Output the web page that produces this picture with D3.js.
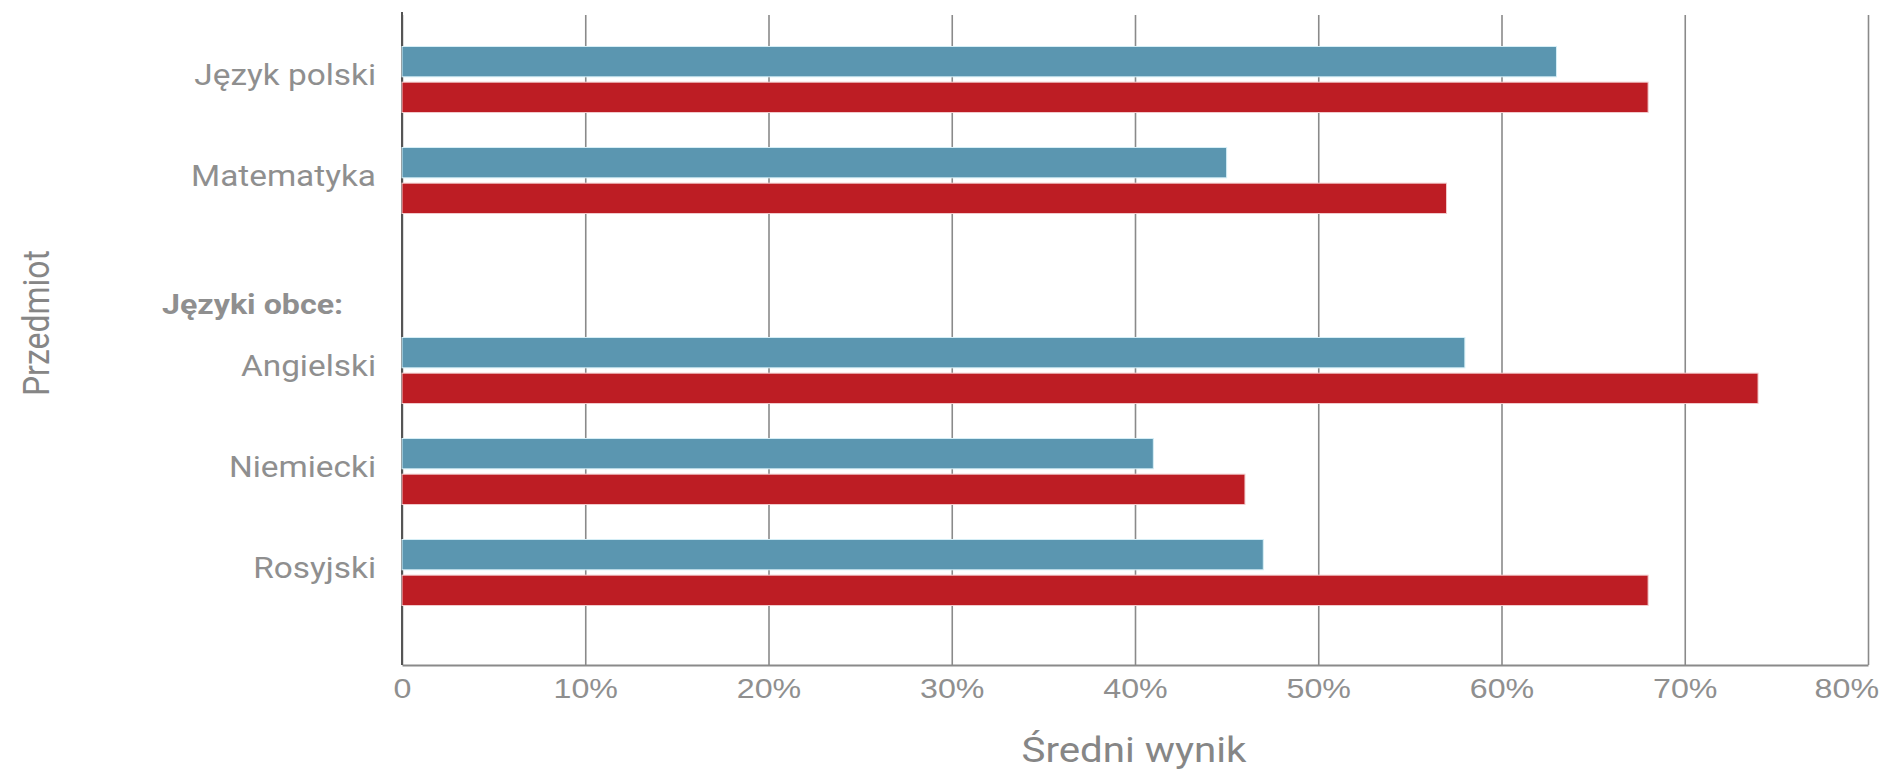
<!DOCTYPE html>
<html>
<head>
<meta charset="utf-8">
<script src="https://cdn.jsdelivr.net/npm/d3@7"></script>
<style>
  html, body { margin: 0; padding: 0; background: #fff; }
  svg { display: block; font-family: Roboto, "Noto Sans", sans-serif; }
</style>
</head>
<body>
<div id="chart"></div>
<script>
// --- data ---
const subjects = ["Język polski", "Matematyka", "Angielski", "Niemiecki", "Rosyjski"];
const subjectGroup = ["main", "main", "obce", "obce", "obce"];
const seriesNames = ["seria A", "seria B"];
const valuesA = [63, 45, 58, 41, 47];
const valuesB = [68, 57, 74, 46, 68];
const xTickValues = [0, 10, 20, 30, 40, 50, 60, 70, 80];
const xTickLabels = ["0", "10%", "20%", "30%", "40%", "50%", "60%", "70%", "80%"];
const groupHeader = "Języki obce:";
const yTitle = "Przedmiot";
const xTitle = "Średni wynik";

// --- layout ---
const W = 1882, H = 771;
const plot = { left: 402, right: 1868, top: 15, bottom: 665 };
const SX = 1.15;               // horizontal stretch of all text
const groupGap = 89;           // extra space before the foreign-language block
const colors = ["#5b96b0", "#bd1d24"];
const strokes = ["#d5eef6", "#f2c9cb"];
const textGray = "#8f8f8f";

const svg = d3.select("#chart")
  .append("svg")
  .attr("width", W)
  .attr("height", H);

const x = d3.scaleLinear()
  .domain([0, 80])
  .range([plot.left, plot.right]);

const y = d3.scaleBand()
  .domain(subjects)
  .range([29, 29 + 5 * 101])
  .paddingInner(0.3465)
  .paddingOuter(0.17325);

const y1 = d3.scaleBand()
  .domain(seriesNames)
  .range([0, y.bandwidth()])
  .paddingInner(0.15);

const rowTop = (s, i) => y(s) + (subjectGroup[i] === "obce" ? groupGap : 0);

// gridlines + bottom axis
const xAxis = svg.append("g")
  .attr("transform", `translate(0,${plot.bottom})`)
  .call(d3.axisBottom(x)
    .tickValues(xTickValues)
    .tickFormat((d, i) => xTickLabels[i])
    .tickSize(-(plot.bottom - plot.top))
    .tickSizeOuter(0)
    .tickPadding(13));

xAxis.select(".domain")
  .attr("stroke", "#8a8a8a")
  .attr("stroke-width", 2);

xAxis.selectAll(".tick line")
  .attr("stroke", "#8a8a8a")
  .attr("stroke-width", 1.6);

xAxis.selectAll(".tick text")
  .attr("fill", textGray)
  .style("font-size", "28px")
  .attr("transform", `scale(${SX},1)`);

// keep last tick label inside the picture
xAxis.selectAll(".tick text").each(function () {
  const b = this.getBoundingClientRect();
  if (b.right > W - 3) {
    d3.select(this).attr("transform", `translate(${W - 3 - b.right},0) scale(${SX},1)`);
  }
});

// left axis line
svg.append("line")
  .attr("x1", plot.left).attr("x2", plot.left)
  .attr("y1", 12).attr("y2", plot.bottom)
  .attr("stroke", "#555")
  .attr("stroke-width", 2);

// bars
const rows = svg.append("g")
  .selectAll("g")
  .data(subjects)
  .join("g")
  .attr("transform", (s, i) => `translate(0,${rowTop(s, i)})`);

rows.selectAll("rect")
  .data((s, i) => [valuesA[i], valuesB[i]].map((v, k) => ({ key: seriesNames[k], k, v })))
  .join("rect")
  .attr("x", x(0))
  .attr("y", d => y1(d.key))
  .attr("width", d => x(d.v) - x(0))
  .attr("height", y1.bandwidth())
  .attr("fill", d => colors[d.k])
  .attr("stroke", d => strokes[d.k])
  .attr("stroke-width", 1);

// category labels
svg.append("g")
  .selectAll("text")
  .data(subjects)
  .join("text")
  .attr("transform", (s, i) =>
    `translate(${plot.left - 26},${rowTop(s, i) + y.bandwidth() / 2 + 5}) scale(${SX},1)`)
  .attr("text-anchor", "end")
  .attr("fill", textGray)
  .style("font-size", "29px")
  .text(d => d);

// group header
svg.append("text")
  .attr("transform",
    `translate(162,${rowTop(subjects[2], 2) - 23}) scale(${SX},1)`)
  .attr("fill", textGray)
  .style("font-size", "28px")
  .style("font-weight", "700")
  .text(groupHeader);

// axis titles
svg.append("text")
  .attr("transform", `translate(1134,762) scale(${SX},1)`)
  .attr("text-anchor", "middle")
  .attr("fill", "#868686")
  .style("font-size", "35px")
  .text(xTitle);

svg.append("text")
  .attr("transform", `translate(49,323) scale(${SX},1) rotate(-90)`)
  .attr("text-anchor", "middle")
  .attr("fill", "#868686")
  .style("font-size", "32px")
  .text(yTitle);
</script>
</body>
</html>
